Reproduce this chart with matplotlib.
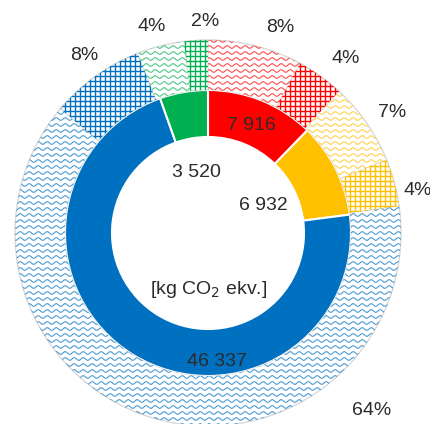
import numpy as np
import matplotlib
matplotlib.use("Agg")
import matplotlib.pyplot as plt
from matplotlib.collections import LineCollection
from matplotlib.patches import Circle

# Emissions by source, kg CO2 eq.
categories = ["Red", "Yellow", "Blue", "Green"]
emissions = [7916, 6932, 46337, 3520]
emission_labels = ["7 916", "6 932", "46 337", "3 520"]

# Outer ring: share of total (%) split into two parts per source
outer_shares = [8, 4, 7, 4, 64, 8, 4, 2]
outer_labels = ["8%", "4%", "7%", "4%", "64%", "8%", "4%", "2%"]
outer_patterns = ["wave", "grid"] * 4

colors = ["#FF0000", "#FFC000", "#0070C0", "#00B050"]
outer_colors = [c for c in colors for _ in range(2)]

W, H = 431, 424
fig = plt.figure(figsize=(W / 100, H / 100), dpi=100)
ax = fig.add_axes([0, 0, 1, 1])

plt.rcParams["font.family"] = ["Liberation Sans", "DejaVu Sans"]
text_color = "#2b2b2b"
fs = 14


def px(x, y):
    """Pixel position measured from the top-left corner -> data coords."""
    return x, H - y


cx, cy = px(208, 233)
r_in, w_in = 143, 47
r_out, w_out = 193, 50

# Inner donut
inner_wedges, _ = ax.pie(
    emissions, radius=r_in, center=(cx, cy), startangle=90,
    counterclock=False, colors=colors,
    wedgeprops=dict(width=w_in, edgecolor="white", linewidth=1.5),
)

# Outer ring (white wedges filled with line patterns)
outer_wedges, _ = ax.pie(
    outer_shares, radius=r_out, center=(cx, cy), startangle=90,
    counterclock=False, colors=["white"] * len(outer_shares),
    wedgeprops=dict(width=w_out, edgecolor="#e2e2e2", linewidth=0.6),
)


def wave_lines(x0, x1, y0, y1, spacing=6.0, period=9.0, amp=1.3):
    xs = np.arange(x0, x1, 0.4)
    segs = []
    for yb in np.arange(y0, y1, spacing):
        ys = yb + amp * np.sin(2 * np.pi * xs / period)
        segs.append(np.column_stack([xs, ys]))
    return segs


def grid_lines(x0, x1, y0, y1, spacing=5.0):
    segs = []
    for x in np.arange(x0, x1, spacing):
        segs.append([(x, y0), (x, y1)])
    for y in np.arange(y0, y1, spacing):
        segs.append([(x0, y), (x1, y)])
    return segs


x0, x1 = cx - r_out - 5, cx + r_out + 5
y0, y1 = cy - r_out - 5, cy + r_out + 5
for wedge, pattern, col in zip(outer_wedges, outer_patterns, outer_colors):
    if pattern == "wave":
        lc = LineCollection(wave_lines(x0, x1, y0, y1), colors=col,
                            linewidths=0.8, alpha=0.7)
    else:
        lc = LineCollection(grid_lines(x0, x1, y0, y1), colors=col,
                            linewidths=1.0)
    ax.add_collection(lc)
    lc.set_clip_path(wedge)

ax.add_patch(Circle((cx, cy), r_out, fill=False, edgecolor="#d8d8d8",
                    linewidth=0.8))

# Value labels on the inner donut
value_pos = [px(251, 125), px(263, 205), px(217, 362), px(196, 172)]
for lab, pos in zip(emission_labels, value_pos):
    ax.text(*pos, lab, ha="center", va="center", fontsize=fs, color=text_color)

ax.text(*px(209, 289), "[kg CO$_2$ ekv.]", ha="center", va="center",
        fontsize=fs, color=text_color)

# Percentage labels around the outer ring
pct_pos = [px(280, 27), px(346, 58), px(392, 112), px(418, 190),
           px(372, 411), px(84, 55), px(152, 26), px(205, 21)]
for lab, pos in zip(outer_labels, pct_pos):
    ax.text(*pos, lab, ha="center", va="center", fontsize=fs, color=text_color)

ax.set_xlim(0, W)
ax.set_ylim(0, H)
ax.set_aspect("equal")
ax.axis("off")

fig.savefig("out.png", dpi=100, facecolor="white")
